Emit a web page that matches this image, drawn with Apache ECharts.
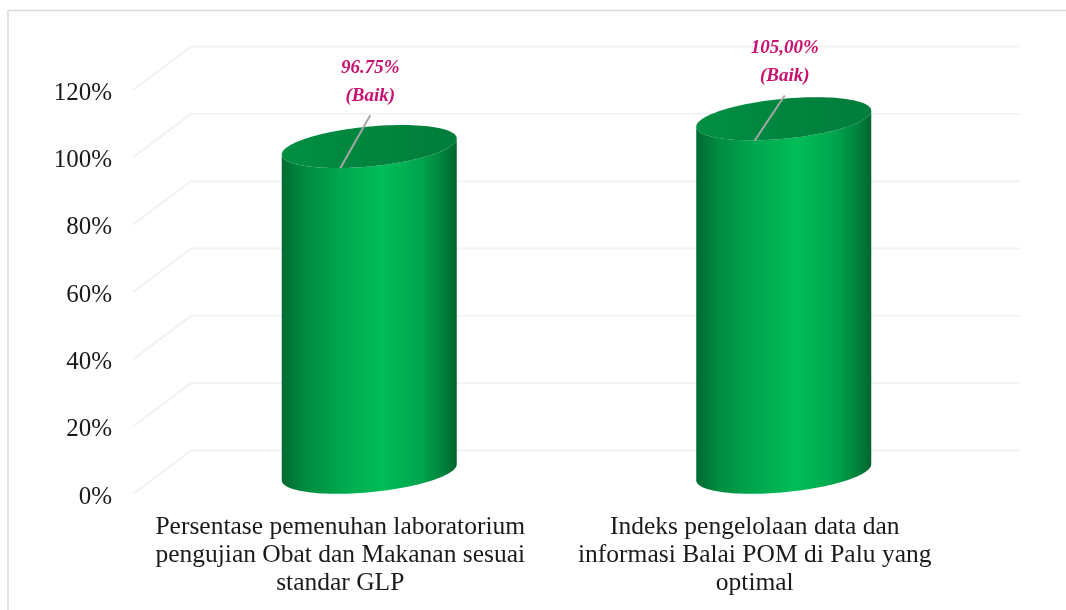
<!DOCTYPE html>
<html>
<head>
<meta charset="utf-8">
<style>html,body{margin:0;padding:0;background:#fff}#c{width:1066px;height:610px}</style>
<script src="https://cdn.jsdelivr.net/npm/echarts@6/dist/echarts.min.js"></script>
</head>
<body>
<div id="c"></div>
<script>
const categories = [
  "Persentase pemenuhan laboratorium\npengujian Obat dan Makanan sesuai\nstandar GLP",
  "Indeks pengelolaan data dan\ninformasi Balai POM di Palu yang\noptimal"
];
const values = [96.75, 105];
const valueLabels = ["96.75%\n(Baik)", "105,00%\n(Baik)"];
const tickValues = [0, 20, 40, 60, 80, 100, 120];

const DEPTH_X = 58, DEPTH_Y = 43.5, RX = 87.5, SKEW = 8, RY = 20;
const LEADER_X = 30, LEADER_LIFT = [53, 45], LABEL_GAP = 33;
const SERIF = '"Liberation Serif", serif';

function ellipsePts(cx, cy, from, to, n) {
  const pts = [];
  for (let k = 0; k <= n; k++) {
    const t = from + (to - from) * k / n;
    pts.push([cx + RX * Math.cos(t), cy - SKEW * Math.cos(t) + RY * Math.sin(t)]);
  }
  return pts;
}

function renderGridLine(params, api) {
  const cs = params.coordSys;
  const y = api.coord([0, api.value(1)])[1];
  return {
    type: 'polyline', silent: true,
    shape: { points: [[cs.x, y], [cs.x + DEPTH_X, y - DEPTH_Y], [cs.x + cs.width + DEPTH_X, y - DEPTH_Y]] },
    style: { stroke: '#f2f2f2', lineWidth: 2, fill: null }
  };
}

function renderCylinder(params, api) {
  const i = api.value(0);
  const front = api.coord([i, api.value(1)]);
  const floor = api.coord([i, 0]);
  const cx = front[0] + DEPTH_X / 2;
  const topY = front[1] - DEPTH_Y / 2;
  const baseY = floor[1] - DEPTH_Y / 2;
  const bottomArc = ellipsePts(cx, baseY, Math.PI, 0, 60);
  const topArc = ellipsePts(cx, topY, 0, Math.PI, 60);
  const endX = front[0] + LEADER_X, endY = front[1] - LEADER_LIFT[i];
  return {
    type: 'group',
    children: [
      {
        type: 'polygon', shape: { points: bottomArc.concat(topArc) },
        style: {
          fill: new echarts.graphic.LinearGradient(0, 0, 1, 0, [
            { offset: 0, color: '#006a31' },
            { offset: 0.12, color: '#008a40' },
            { offset: 0.35, color: '#00a94f' },
            { offset: 0.58, color: '#00bd58' },
            { offset: 0.8, color: '#00a44c' },
            { offset: 0.93, color: '#007f3b' },
            { offset: 1, color: '#00642e' }
          ])
        }
      },
      {
        type: 'polygon', shape: { points: ellipsePts(cx, topY, 0, Math.PI * 2, 120) },
        style: {
          fill: new echarts.graphic.LinearGradient(0, 0, 1, 0, [
            { offset: 0, color: '#008f43' },
            { offset: 0.5, color: '#00853e' },
            { offset: 1, color: '#007d3a' }
          ])
        }
      },
      {
        type: 'line', shape: { x1: front[0], y1: front[1], x2: endX, y2: endY },
        style: { stroke: '#a6a6a6', lineWidth: 2 }
      },
      {
        type: 'text',
        style: {
          x: endX, y: endY - LABEL_GAP,
          text: valueLabels[i],
          fill: '#c9106f',
          font: 'italic bold 19px ' + SERIF,
          lineHeight: 28,
          align: 'center', verticalAlign: 'middle'
        }
      }
    ]
  };
}

const chart = echarts.init(document.getElementById('c'), null, { renderer: 'canvas' });
chart.setOption({
  animation: false,
  backgroundColor: '#ffffff',
  graphic: [
    { type: 'line', shape: { x1: 8, y1: 10.5, x2: 1066, y2: 10.5 }, style: { stroke: '#d9d9d9', lineWidth: 1.5 }, silent: true },
    { type: 'line', shape: { x1: 8, y1: 10.5, x2: 8, y2: 610 }, style: { stroke: '#d9d9d9', lineWidth: 1.5 }, silent: true }
  ],
  grid: { left: 133, right: 104, top: 90, bottom: 116 },
  xAxis: {
    type: 'category', data: categories,
    axisLine: { show: false }, axisTick: { show: false }, splitLine: { show: false },
    axisLabel: { interval: 0, color: '#1a1a1a', fontFamily: SERIF, fontSize: 25.5, lineHeight: 28, margin: 19 }
  },
  yAxis: {
    type: 'value', min: 0, max: 120, interval: 20,
    axisLine: { show: false }, axisTick: { show: false }, splitLine: { show: false },
    axisLabel: {
      formatter: '{s| }\n{v|{value}%}', margin: 21,
      rich: {
        s: { fontSize: 6, lineHeight: 6, height: 6 },
        v: { color: '#1a1a1a', fontFamily: SERIF, fontSize: 25, lineHeight: 28 }
      }
    }
  },
  series: [
    { type: 'custom', silent: true, clip: false, renderItem: renderGridLine, encode: { x: 0, y: 1 },
      data: tickValues.map(v => [0, v]), z: 1 },
    { type: 'custom', silent: true, clip: false, renderItem: renderCylinder, encode: { x: 0, y: 1 },
      data: values.map((v, i) => [i, v]), z: 2 }
  ]
});
</script>
</body>
</html>
